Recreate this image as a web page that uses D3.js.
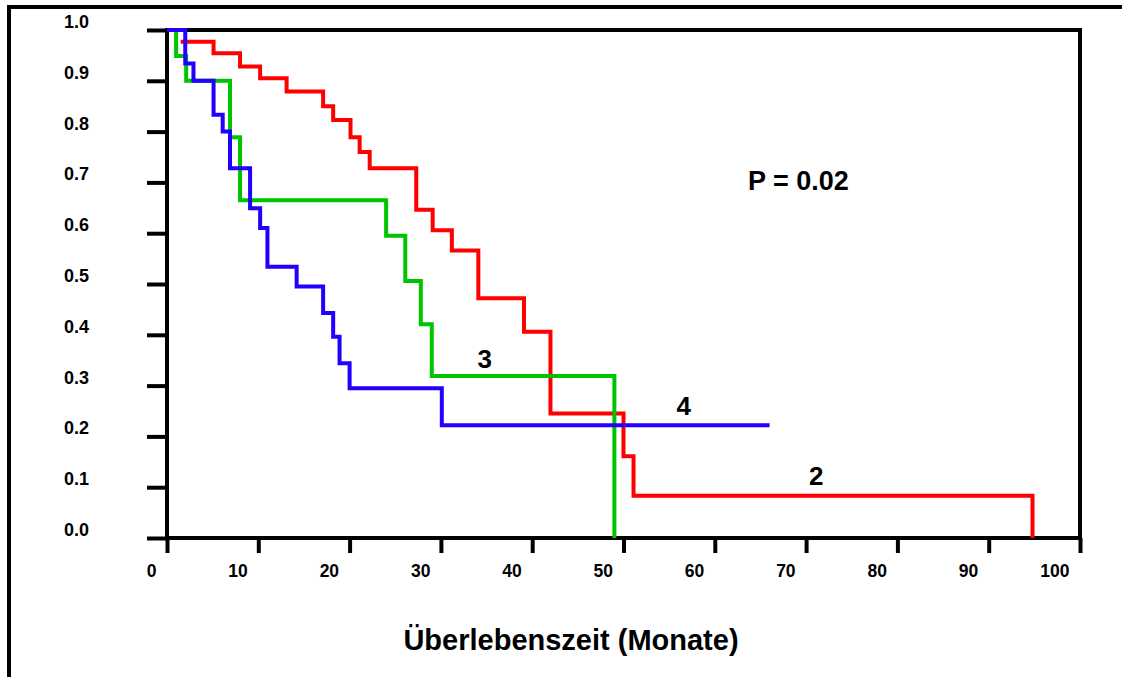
<!DOCTYPE html>
<html>
<head>
<meta charset="utf-8">
<script src="https://cdn.jsdelivr.net/npm/d3@7/dist/d3.min.js"></script>
<style>
  html, body { margin: 0; padding: 0; background: #fff; }
  svg { display: block; }
  text { font-family: "Liberation Sans", Arial, Helvetica, sans-serif; font-weight: bold; fill: #000; }
</style>
</head>
<body>
<svg id="chart" width="1122" height="677"></svg>
<script>
// ---- data ----
const xTickValues = [0, 10, 20, 30, 40, 50, 60, 70, 80, 90, 100];
const yTickValues = [0.0, 0.1, 0.2, 0.3, 0.4, 0.5, 0.6, 0.7, 0.8, 0.9, 1.0];

// group 2 (red)
const group2Times = [1.5, 5.1, 8.0, 10.2, 13.1, 17.1, 18.2, 20.1, 21.1, 22.2, 27.3, 29.1, 31.2, 34.1, 39.1, 42.0, 50.0, 51.1, 94.8];
const group2Surv  = [0.977, 0.954, 0.928, 0.905, 0.879, 0.850, 0.823, 0.789, 0.760, 0.728, 0.646, 0.606, 0.566, 0.472, 0.406, 0.245, 0.161, 0.083, 0.0];
// group 3 (green)
const group3Times = [0, 1.0, 2.1, 6.9, 8.0, 24.0, 26.1, 27.8, 29.0, 49.0];
const group3Surv  = [1.0, 0.949, 0.900, 0.789, 0.665, 0.595, 0.506, 0.421, 0.319, 0.0];
// group 4 (blue)
const group4Times = [0, 2.0, 2.9, 5.1, 6.1, 6.9, 9.1, 10.2, 11.0, 14.2, 17.1, 18.2, 18.9, 20.0, 30.1, 66.0];
const group4Surv  = [1.0, 0.934, 0.900, 0.833, 0.800, 0.728, 0.649, 0.610, 0.534, 0.495, 0.443, 0.396, 0.344, 0.295, 0.222, 0.222];

const seriesNames = ["2", "3", "4"];
const xTitle = "Überlebenszeit (Monate)";
const pValueText = "P = 0.02";

// ---- layout ----
const svg = d3.select("#chart");
const plot = { left: 167, right: 1080, top: 30, bottom: 538 };

const x = d3.scaleLinear().domain([0, 100]).range([plot.left, plot.right]);
const y = d3.scaleLinear().domain([0, 1]).range([plot.bottom, plot.top]);

// outer frame (top + left lines)
svg.append("path")
  .attr("d", `M7,7 H1122 M9,7 V677`)
  .attr("fill", "none").attr("stroke", "#000").attr("stroke-width", 4);

// plot box
svg.append("rect")
  .attr("x", plot.left).attr("y", plot.top)
  .attr("width", plot.right - plot.left).attr("height", plot.bottom - plot.top)
  .attr("fill", "none").attr("stroke", "#000").attr("stroke-width", 4);

// y axis
const yAxis = d3.axisLeft(y).tickValues(yTickValues).tickFormat(d3.format(".1f"))
  .tickSize(20).tickPadding(58);
const gy = svg.append("g").attr("transform", `translate(${plot.left},0)`).call(yAxis);
gy.select(".domain").remove();
gy.selectAll(".tick line").attr("stroke", "#000").attr("stroke-width", 4);
gy.selectAll(".tick text")
  .attr("dy", -2.5)
  .style("font-size", "18px")
  .style("font-family", '"Liberation Sans", Arial, sans-serif')
  .style("font-weight", "bold");

// x axis
const xAxis = d3.axisBottom(x).tickValues(xTickValues).tickFormat(d3.format("d")).tickSize(15);
const gx = svg.append("g").attr("transform", `translate(0,${plot.bottom})`).call(xAxis);
gx.select(".domain").remove();
gx.selectAll(".tick line").attr("stroke", "#000").attr("stroke-width", 4);
gx.selectAll(".tick text")
  .attr("text-anchor", "end")
  .attr("x", -11)
  .attr("y", 39)
  .attr("dy", 0)
  .style("font-size", "17.5px")
  .style("font-family", '"Liberation Sans", Arial, sans-serif')
  .style("font-weight", "bold");

// survival curves
const line = d3.line().x(d => x(d[0])).y(d => y(d[1])).curve(d3.curveStepAfter);
const series = [
  { times: group2Times, surv: group2Surv, color: "#ff0000" },
  { times: group3Times, surv: group3Surv, color: "#00c400" },
  { times: group4Times, surv: group4Surv, color: "#2200ff" }
];
series.forEach(s => {
  const pts = s.times.map((t, i) => [t, s.surv[i]]);
  svg.append("path")
    .attr("d", line(pts))
    .attr("fill", "none")
    .attr("stroke", s.color)
    .attr("stroke-width", 4)
    .attr("stroke-linejoin", "miter")
    .attr("stroke-linecap", "butt");
});

// curve labels (positioned in data units)
const labelPos = [
  { name: seriesNames[0], t: 71.1, s: 0.105 },
  { name: seriesNames[1], t: 34.8, s: 0.335 },
  { name: seriesNames[2], t: 56.6, s: 0.242 }
];
labelPos.forEach(l => {
  svg.append("text")
    .attr("x", x(l.t)).attr("y", y(l.s))
    .attr("text-anchor", "middle")
    .style("font-size", "26px")
    .text(l.name);
});

// p value
svg.append("text")
  .attr("x", 748).attr("y", 190)
  .style("font-size", "27px")
  .text(pValueText);

// x axis title
svg.append("text")
  .attr("x", 571).attr("y", 650)
  .attr("text-anchor", "middle")
  .style("font-size", "29px")
  .text(xTitle);
</script>
</body>
</html>
